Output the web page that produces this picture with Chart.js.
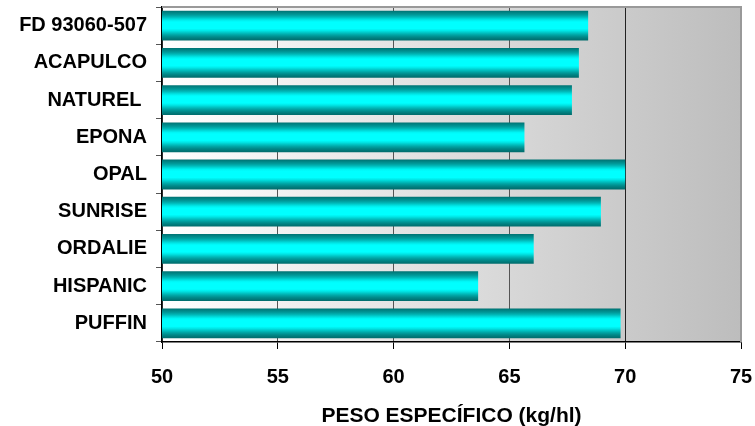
<!DOCTYPE html>
<html>
<head>
<meta charset="utf-8">
<title>Peso especifico</title>
<script src="https://cdn.jsdelivr.net/npm/chart.js@4.4.1/dist/chart.umd.min.js"></script>
<style>
    html, body { margin: 0; padding: 0; background: #ffffff; }
    #wrap { width: 755px; height: 426px; }
</style>
</head>
<body>
<div id="wrap"><canvas id="peso-chart" width="755" height="426"></canvas></div>
<script>
// varieties, top to bottom
var categories = ["FD 93060-507", "ACAPULCO", "NATUREL ", "EPONA", "OPAL", "SUNRISE", "ORDALIE", "HISPANIC", "PUFFIN"];
// peso especifico (kg/hl)
var pesoValues = [68.4, 68.0, 67.7, 65.65, 70.0, 68.95, 66.05, 63.65, 69.8];
var xMin = 50;
var xMax = 75;
var xStep = 5;
var axisTitle = "PESO ESPECÍFICO (kg/hl)";

var fontFamily = "'Liberation Sans', Arial, sans-serif";

// cylinder look for each bar
function barFill(context) {
    var chart = context.chart;
    var yScale = chart.scales.y;
    if (!yScale || context.dataIndex === undefined) {
        return "#00ffff";
    }
    var center = yScale.getPixelForValue(context.dataIndex);
    var half = yScale.height / categories.length * 0.8 / 2;
    if (!isFinite(center) || !isFinite(half) || half <= 0) {
        return "#00ffff";
    }
    var g = chart.ctx.createLinearGradient(0, center - half, 0, center + half);
    g.addColorStop(0, "#007272");
    g.addColorStop(0.07, "#008686");
    g.addColorStop(0.14, "#009b9b");
    g.addColorStop(0.21, "#00b8b8");
    g.addColorStop(0.28, "#00dcdc");
    g.addColorStop(0.34, "#00f6f6");
    g.addColorStop(0.39, "#00ffff");
    g.addColorStop(0.6, "#00ffff");
    g.addColorStop(0.67, "#00e6e6");
    g.addColorStop(0.74, "#00c4c4");
    g.addColorStop(0.81, "#00a4a4");
    g.addColorStop(0.88, "#008a8a");
    g.addColorStop(0.95, "#007676");
    g.addColorStop(1, "#006c6c");
    return g;
}

// grey plot area, white on the left
var plotBackground = {
    id: "plotBackground",
    beforeDraw: function (chart) {
        var a = chart.chartArea;
        var ctx = chart.ctx;
        var g = ctx.createLinearGradient(a.left, 0, a.right, 0);
        g.addColorStop(0, "#ffffff");
        g.addColorStop(1, "#bdbdbd");
        ctx.save();
        ctx.fillStyle = g;
        ctx.fillRect(a.left, a.top, a.right - a.left, a.bottom - a.top);
        ctx.restore();
    },
    afterDraw: function (chart) {
        var a = chart.chartArea;
        var ctx = chart.ctx;
        ctx.save();
        ctx.strokeStyle = "#999999";
        ctx.lineWidth = 2;
        ctx.beginPath();
        ctx.moveTo(a.left, a.top);
        ctx.lineTo(a.right, a.top);
        ctx.lineTo(a.right, a.bottom);
        ctx.stroke();
        ctx.restore();
    }
};

var ctx = document.getElementById("peso-chart").getContext("2d");

var pesoChart = new Chart(ctx, {
    type: "bar",
    data: {
        labels: categories,
        datasets: [{
            label: axisTitle,
            data: pesoValues,
            backgroundColor: barFill,
            borderWidth: 0,
            categoryPercentage: 1,
            barPercentage: 0.8
        }]
    },
    options: {
        indexAxis: "y",
        responsive: false,
        animation: false,
        layout: {
            padding: { top: 7, right: 14, bottom: 0, left: 0 }
        },
        plugins: {
            legend: { display: false },
            tooltip: { enabled: false },
            title: { display: false }
        },
        scales: {
            x: {
                min: xMin,
                max: xMax,
                ticks: {
                    stepSize: xStep,
                    color: "#000000",
                    padding: 16,
                    font: { family: fontFamily, size: 20, weight: "bold" }
                },
                grid: {
                    color: function (c) {
                        if (c.tick && c.tick.value === xMax) {
                            return "rgba(0,0,0,0)";
                        }
                        return c.tick && c.tick.value === 70 ? "#222222" : "#555555";
                    },
                    tickColor: "#000000",
                    tickLength: 7,
                    lineWidth: 1
                },
                border: { color: "#000000", width: 1.5 },
                title: {
                    display: true,
                    text: axisTitle,
                    color: "#000000",
                    padding: { top: 6, bottom: -3 },
                    font: { family: fontFamily, size: 21, weight: "bold" }
                },
                afterFit: function (scale) {
                    scale.height = 84;
                    scale.paddingLeft = 0;
                    scale.paddingRight = 0;
                }
            },
            y: {
                ticks: {
                    color: "#000000",
                    padding: 9,
                    font: { family: fontFamily, size: 20, weight: "bold" }
                },
                grid: {
                    drawOnChartArea: false,
                    tickColor: "#555555",
                    tickLength: 6
                },
                border: { color: "#000000", width: 1.5 },
                afterFit: function (scale) {
                    scale.width = 162;
                    scale.paddingTop = 0;
                    scale.paddingBottom = 0;
                }
            }
        }
    },
    plugins: [plotBackground]
});
</script>
</body>
</html>
